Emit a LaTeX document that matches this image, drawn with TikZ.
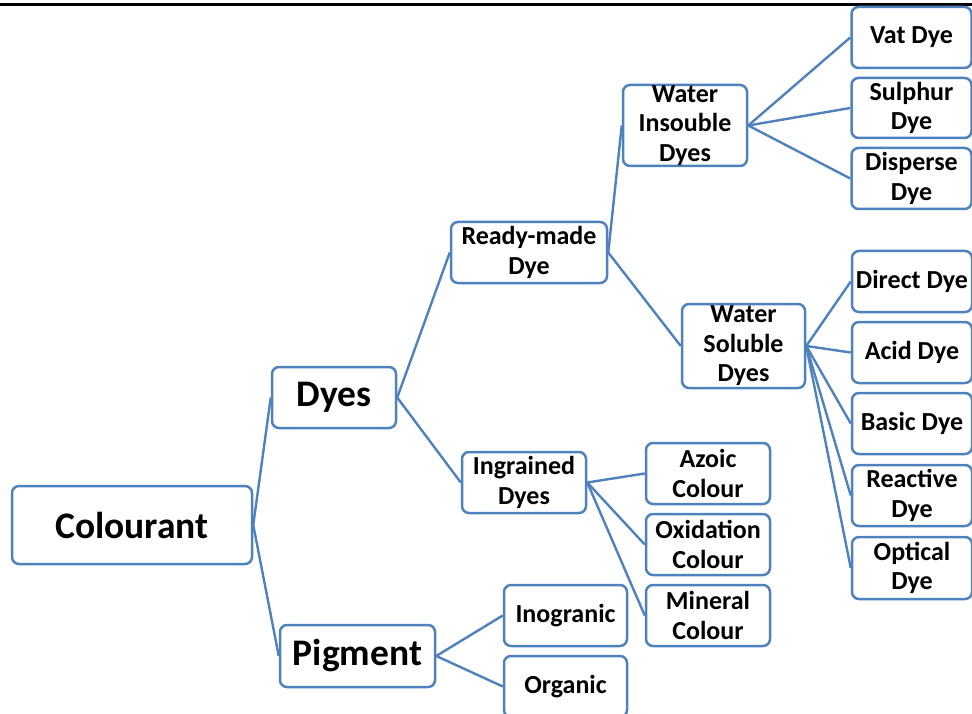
\documentclass[tikz,border=0pt]{standalone}
\usepackage{fontspec}
\setmainfont{Carlito}
\definecolor{boxblue}{RGB}{79,129,189}
\begin{document}
\begin{tikzpicture}[x=1pt,y=-1pt,
  box/.style={draw=boxblue, line width=2.5pt, rounded corners=7pt, align=center,
    font=\bfseries\fontsize{26}{29.5}\selectfont, inner sep=0pt, text=black},
  big/.style={font=\bfseries\fontsize{37.5}{42}\selectfont},
  link/.style={draw=boxblue, line width=2.4pt}]
\useasboundingbox (0,0) rectangle (972,714);
\coordinate (tl) at (0,5);
\coordinate (tr) at (972,5);
\draw[line width=3pt] (tl) -- (tr);

\node[box,big,minimum width=240pt,minimum height=78pt] (col) at (132,525) {Colourant};
\node[box,big,minimum width=124pt,minimum height=61pt] (dyes) at (334,397.5) {Dyes};
\node[box,big,minimum width=155pt,minimum height=62pt] (pig) at (357.5,656) {Pigment};
\node[box,minimum width=156pt,minimum height=61pt] (ready) at (529,252.5) {Ready-made\\Dye};
\node[box,minimum width=124pt,minimum height=61pt] (ingr) at (524,482.5) {Ingrained\\Dyes};
\node[box,minimum width=124pt,minimum height=81pt] (wins) at (685,125.5) {Water\\Insouble\\Dyes};
\node[box,minimum width=123pt,minimum height=84pt] (wsol) at (743.5,346) {Water\\Soluble\\Dyes};

\node[box,minimum width=120pt,minimum height=61pt] (vat) at (911.5,37.5) {Vat Dye};
\node[box,minimum width=120pt,minimum height=60pt] (sul) at (911.5,108) {Sulphur\\Dye};
\node[box,minimum width=120pt,minimum height=61pt] (dis) at (911.5,178.5) {Disperse\\Dye};
\node[box,minimum width=120pt,minimum height=61pt] (dir) at (912,281.5) {Direct Dye};
\node[box,minimum width=120pt,minimum height=61pt] (acid) at (912,352.5) {Acid Dye};
\node[box,minimum width=120pt,minimum height=61pt] (basic) at (912,423.5) {Basic Dye};
\node[box,minimum width=120pt,minimum height=61pt] (react) at (912,495.5) {Reactive\\Dye};
\node[box,minimum width=120pt,minimum height=62pt] (opt) at (912,568) {Optical\\Dye};

\node[box,minimum width=124pt,minimum height=61pt] (azo) at (708,473.5) {Azoic\\Colour};
\node[box,minimum width=124pt,minimum height=61pt] (oxi) at (708,544.5) {Oxidation\\Colour};
\node[box,minimum width=124pt,minimum height=61pt] (min) at (708,615.5) {Mineral\\Colour};
\node[box,minimum width=123pt,minimum height=61pt] (inog) at (565.5,615.5) {Inogranic};
\node[box,minimum width=123pt,minimum height=61pt] (org) at (565.5,686.5) {Organic};

\draw[link] (col.east) -- (dyes.west);
\draw[link] (col.east) -- (pig.west);
\draw[link] (dyes.east) -- (ready.west);
\draw[link] (dyes.east) -- (ingr.west);
\draw[link] (ready.east) -- (wins.west);
\draw[link] (ready.east) -- (wsol.west);
\foreach \t in {vat,sul,dis} \draw[link] (wins.east) -- (\t.west);
\foreach \t in {dir,acid,basic,react,opt} \draw[link] (wsol.east) -- (\t.west);
\foreach \t in {azo,oxi,min} \draw[link] (ingr.east) -- (\t.west);
\foreach \t in {inog,org} \draw[link] (pig.east) -- (\t.west);
\end{tikzpicture}
\end{document}
